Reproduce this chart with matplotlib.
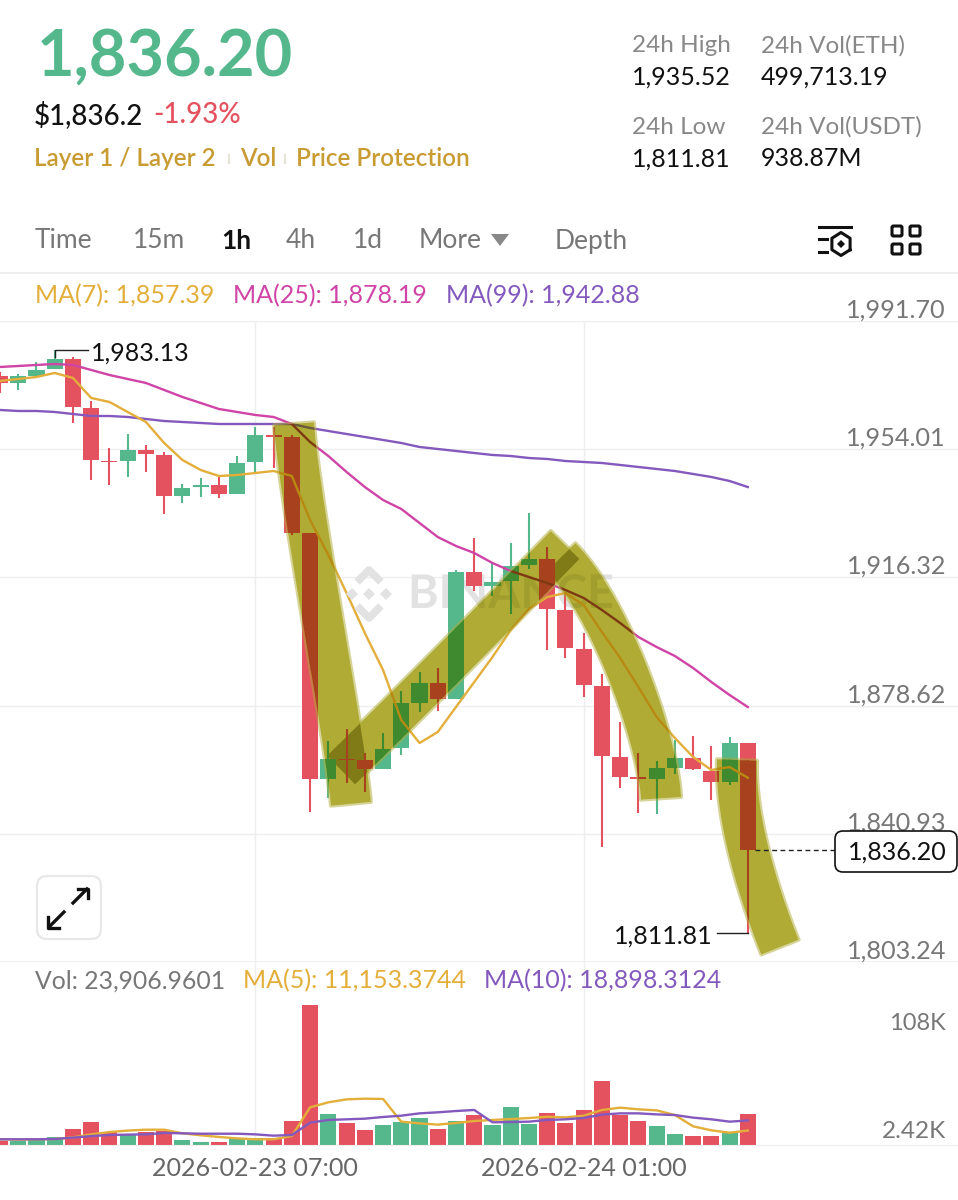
import numpy as np
import matplotlib
matplotlib.use("Agg")
import matplotlib.pyplot as plt
from matplotlib.patches import Polygon, FancyBboxPatch, PathPatch
from matplotlib.textpath import TextPath
from matplotlib.font_manager import FontProperties
from matplotlib.transforms import Affine2D

plt.rcParams['font.family'] = ['Lato', 'DejaVu Sans']

# candles, index 0 is the partly cut one at the left edge
opens = [1975.53,1973.48,1975.53,1977.59,1980.53,1966.13,1950.54,1950.54,1953.78,1952.31,1940.25,1942.90,1943.49,1940.84,
         1950.25,1958.19,1957.60,1929.37,1857.04,1862.92,1862.63,1859.98,1866.16,1879.39,1885.27,1880.56,1917.90,1913.79,
         1915.26,1919.96,1921.73,1906.73,1895.26,1884.39,1863.51,1857.63,1857.04,1860.27,1863.22,1859.39,1856.16,1867.63]
highs = [1976.71,1976.12,1979.65,1983.13,1981.12,1968.18,1954.36,1958.48,1955.25,1953.19,1943.78,1945.54,1945.84,1952.01,
         1960.54,1960.54,1958.19,1929.37,1868.21,1871.74,1864.68,1870.57,1882.92,1888.50,1889.68,1918.49,1927.90,1920.55,
         1926.43,1935.25,1925.26,1912.02,1899.97,1887.91,1873.80,1864.68,1862.33,1868.51,1869.68,1866.74,1869.39,1867.63]
lows = [1970.54,1971.42,1975.53,1977.59,1961.72,1944.96,1943.49,1945.84,1947.31,1934.96,1938.19,1939.96,1939.66,1940.84,
        1947.31,1948.48,1928.78,1847.34,1851.45,1855.86,1853.22,1859.98,1864.10,1876.74,1877.03,1880.56,1912.32,1910.85,
        1905.56,1918.79,1894.97,1892.62,1881.15,1837.05,1854.39,1847.04,1846.75,1858.51,1859.69,1850.87,1855.28,1811.81]
closes = [1973.48,1975.53,1977.30,1980.53,1966.42,1950.84,1950.25,1953.78,1952.60,1940.25,1942.60,1943.49,1940.84,1949.95,
          1958.19,1957.60,1929.37,1857.04,1862.92,1862.63,1859.98,1865.86,1879.39,1885.27,1880.56,1917.90,1913.79,1914.96,
          1919.67,1921.73,1907.03,1895.56,1884.68,1863.80,1857.63,1857.04,1860.27,1863.22,1859.98,1856.16,1867.63,1836.20]

ma7 = [1974.06,1974.65,1975.24,1976.42,1974.95,1969.07,1967.89,1964.95,1962.01,1955.83,1950.84,1947.90,1946.13,1946.43,
       1947.01,1947.60,1946.13,1933.19,1922.90,1911.73,1899.97,1889.09,1874.39,1867.63,1870.86,1878.21,1885.56,1892.91,
       1900.85,1907.03,1910.55,1911.73,1908.20,1900.26,1892.62,1884.09,1875.27,1869.10,1863.51,1859.69,1860.57,1857.39]
ma25 = [1978.18,1978.47,1978.77,1979.06,1978.77,1977.30,1975.83,1974.65,1973.48,1971.42,1969.36,1967.60,1965.83,1964.95,
        1964.07,1963.48,1961.42,1956.13,1952.01,1947.31,1942.90,1939.07,1936.43,1932.31,1928.19,1925.55,1923.49,1920.55,
        1918.20,1916.43,1914.67,1912.61,1910.26,1906.73,1902.91,1898.79,1895.85,1893.21,1889.68,1885.56,1881.74,1878.19]
ma99 = [1965.54,1965.24,1965.24,1964.95,1964.36,1963.77,1963.77,1963.48,1962.89,1962.30,1962.01,1961.72,1961.42,1961.42,
        1961.42,1961.42,1961.42,1960.25,1959.36,1958.48,1957.60,1956.72,1955.83,1954.66,1954.07,1953.48,1952.89,1952.31,
        1952.01,1951.42,1951.13,1950.54,1950.25,1949.95,1949.37,1948.78,1948.19,1947.60,1946.72,1945.84,1944.66,1942.88]

# volume in thousands
volumes = [3.1,2.8,3.6,5.9,12.3,17.5,10.3,8.5,10.0,11.1,4.1,2.6,2.42,5.7,5.7,5.1,18.2,108.0,23.9,16.7,11.6,15.2,17.5,20.8,
           12.3,18.2,23.1,15.2,29.0,15.9,24.9,17.2,26.7,49.1,23.1,18.5,14.4,8.2,6.7,7.2,9.0,23.9]
vol_ma5 = [4.4,4.1,4.4,4.6,5.9,8.2,10.0,11.1,11.8,11.8,9.0,7.5,6.2,5.1,4.4,4.4,6.9,29.0,32.9,35.2,35.7,35.5,18.0,16.7,15.7,
           17.0,18.5,19.3,20.0,20.8,21.8,21.3,22.6,27.0,28.8,27.5,26.7,23.1,14.4,11.3,9.5,11.15]
vol_ma10 = [4.4,4.4,4.4,4.6,5.7,6.9,7.7,8.0,8.2,9.3,9.0,8.7,8.7,8.7,8.2,7.2,7.7,17.2,19.3,19.8,20.3,21.6,22.6,24.4,25.2,26.2,
            27.0,17.5,17.7,18.0,19.3,19.8,20.8,23.4,24.4,24.4,23.6,23.1,21.1,19.8,18.0,18.9]

price_ticks = [1991.70,1954.01,1916.32,1878.62,1840.93,1803.24]
price_labels = ['1,991.70','1,954.01','1,916.32','1,878.62','1,840.93','1,803.24']
date_ticks = [14,32]
date_labels = ['2026-02-23 07:00','2026-02-24 01:00']

# hand drawn highlighter strokes, centre lines as (candle index, price)
stroke1 = ([16.12,16.67,17.65,18.64,19.24],[1961.1,1939.07,1902.91,1874.39,1849.4])
stroke2 = ([18.70,24.51,30.98],[1859.69,1890.56,1925.84])
stroke3 = ([30.76,32.73,34.43,35.69,36.24],[1922.31,1907.32,1888.50,1867.63,1851.45])
stroke4 = ([40.41,40.68,41.56,42.76],[1862.63,1844.99,1825.87,1807.64])

GREEN = '#55b88c'
RED = '#e5525f'
GOLD = '#c99c33'
MA_GOLD = '#e3ae3a'
MAGENTA = '#cf44a6'
PURPLE = '#8459bd'
GRID = '#eeeeee'
OLIVE = '#afab34'
W, H = 958, 1200


def px_axes(x0, y0, x1, y1):
    return fig.add_axes([x0/W, 1-y1/H, (x1-x0)/W, (y1-y0)/H])


def draw_candles(ax, up, down, clip=None, z=2):
    x = np.arange(len(opens))
    o, c = np.array(opens), np.array(closes)
    cols = [up if c[i] >= o[i] else down for i in x]
    wicks = ax.vlines(x, lows, highs, colors=cols, lw=1.5, zorder=z)
    bars = ax.bar(x, np.abs(c-o), bottom=np.minimum(o, c), width=0.88, color=cols, lw=0, zorder=z)
    if clip is not None:
        wicks.set_clip_path(clip)
        for b in bars:
            b.set_clip_path(clip)


def ribbon(ax, stroke, width=40):
    # turn a centre line into a polygon of constant width, smoothed with a cubic in screen space
    pts = ax.transData.transform(np.column_stack(stroke))
    t = np.linspace(0, 1, len(pts))
    tt = np.linspace(0, 1, 60)
    deg = min(3, len(pts)-1)
    sx = np.polyval(np.polyfit(t, pts[:, 0], deg), tt)
    sy = np.polyval(np.polyfit(t, pts[:, 1], deg), tt)
    dx, dy = np.gradient(sx), np.gradient(sy)
    n = np.hypot(dx, dy)
    nx, ny = -dy/n*width/2, dx/n*width/2
    left = np.column_stack([sx+nx, sy+ny])
    right = np.column_stack([sx-nx, sy-ny])
    outline = np.vstack([left, right[::-1]])
    return ax.transData.inverted().transform(outline)


def watermark(ax, color, z, clip=None):
    # as a path, agg does not clip plain text to a polygon
    tp = TextPath((0, 0), 'BINANCE', size=46.5, prop=FontProperties(family='Lato', weight='bold'))
    patch = PathPatch(tp, fc=color, lw=0, zorder=z, transform=Affine2D().translate(408, H-608))
    ax.add_artist(patch)
    if clip is not None:
        patch.set_clip_path(clip)


fig = plt.figure(figsize=(W/100, H/100), dpi=100, facecolor='white')

# price panel, top edge on the 1,991.70 grid line and bottom edge on the 1,803.24 one
ax = px_axes(0, 321, W, 962)
ax.set_xlim(0, W/18.24)
ax.set_ylim(price_ticks[-1], price_ticks[0])
ax.set_yticks(price_ticks)
ax.set_xticks(date_ticks)
ax.tick_params(length=0, labelleft=False, labelbottom=False)
ax.grid(color=GRID, lw=1, zorder=0)
ax.set_axisbelow(True)
for s in ax.spines.values():
    s.set_visible(False)
ax.axhline(price_ticks[0], color=GRID, lw=1.2, zorder=0)
ax.axhline(price_ticks[-1], color=GRID, lw=1.2, zorder=0)

watermark(ax, '#e2e2e2', 1)

draw_candles(ax, GREEN, RED)
x = np.arange(len(opens))
ax.plot(x, ma99, color=PURPLE, lw=1.7, zorder=3)
ax.plot(x, ma25, color=MAGENTA, lw=1.7, zorder=3)
ax.plot(x, ma7, color=MA_GOLD, lw=1.7, zorder=3)

# highlighter on top, what lies under it is redrawn darker inside the stroke to fake multiply
polys = []
for st in [stroke1, stroke2, stroke3, stroke4]:
    xy = ribbon(ax, st)
    ax.add_patch(Polygon(xy, closed=True, fc='none', ec=OLIVE, lw=3, alpha=0.5, zorder=3.9, joinstyle='round'))
    p = Polygon(xy, closed=True, fc=OLIVE, lw=0, zorder=4)
    ax.add_patch(p)
    polys.append(p)
for i, j in [(0, 1), (2, 1)]:
    p = Polygon(polys[i].get_xy(), closed=True, fc='#807b16', lw=0, zorder=4.5)
    ax.add_patch(p)
    p.set_clip_path(polys[j])
for p in polys:
    watermark(ax, '#a29e2e', 4.2, clip=p)
    draw_candles(ax, '#3f8a2e', '#a8421e', clip=p, z=5)
    for vals, col in [(ma99, '#6a5a3c'), (ma25, '#7d3a12'), (ma7, '#b98a12')]:
        l, = ax.plot(x, vals, color=col, lw=1.7, zorder=6)
        l.set_clip_path(p)

# high and low markers
ax.plot([3, 3, 4.8], [highs[3]-1.9, highs[3], highs[3]], color='#222222', lw=1, zorder=7)
ax.plot([39.3, 41], [lows[41], lows[41]], color='#222222', lw=1, zorder=7)
ax.plot([41.4, 45.8], [closes[41], closes[41]], color='#222222', lw=1, ls=(0, (3.5, 2.5)), zorder=7)

# volume panel
vax = px_axes(0, 962, W, 1145)
vax.set_xlim(0, W/18.24)
vax.set_ylim(0, 141.1)
vax.set_xticks(date_ticks)
vax.set_yticks([])
vax.tick_params(length=0, labelbottom=False, labelleft=False)
vax.grid(axis='x', color=GRID, lw=1, zorder=0)
vax.set_axisbelow(True)
vax.patch.set_alpha(0)
for s in vax.spines.values():
    s.set_visible(False)
vax.spines['bottom'].set_visible(True)
vax.spines['bottom'].set_color(GRID)
vol_cols = [GREEN if closes[i] >= opens[i] else RED for i in x]
vax.bar(x, volumes, width=0.88, color=vol_cols, lw=0, zorder=2)
vax.plot(x, vol_ma5, color=MA_GOLD, lw=1.7, zorder=3)
vax.plot(x, vol_ma10, color=PURPLE, lw=1.7, zorder=3)

# everything else sits on a pixel overlay
ui = fig.add_axes([0, 0, 1, 1], zorder=10)
ui.set_xlim(0, W)
ui.set_ylim(H, 0)
ui.axis('off')


def T(px, py, s, color='#111111', size=18, ha='left', weight='normal', z=3):
    ui.text(px, py, s, color=color, fontsize=size, ha=ha, va='center', fontweight=weight, zorder=z)


T(37, 57, '1,836.20', GREEN, 46.7, weight='bold')
T(34, 115, '$1,836.2', '#111111', 20, weight='medium')
T(153, 115, '-1.93%', RED, 20, weight='medium')
T(34, 159, 'Layer 1 / Layer 2', GOLD, 17.5, weight='semibold')
T(240, 159, 'Vol', GOLD, 17.5, weight='semibold')
T(296, 159, 'Price Protection', GOLD, 17.5, weight='semibold')
for dx in [229, 285]:
    ui.plot([dx, dx], [155, 163], color='#e8e4d8', lw=1.5)

T(632, 46, '24h High', '#888888', 17.5)
T(761, 46, '24h Vol(ETH)', '#888888', 17.5)
T(632, 77, '1,935.52', size=18)
T(761, 77, '499,713.19', size=18)
T(632, 127, '24h Low', '#888888', 17.5)
T(761, 127, '24h Vol(USDT)', '#888888', 17.5)
T(632, 159, '1,811.81', size=18)
T(761, 159, '938.87M', size=18)

for tx, lab in [(35, 'Time'), (133, '15m'), (286, '4h'), (353, '1d'), (419, 'More'), (555, 'Depth')]:
    T(tx, 241, lab, '#777777', 19)
T(221, 241, '1h', '#111111', 19, weight='bold')
ui.add_patch(Polygon([(491, 234), (509, 234), (500, 246)], fc='#888888', lw=0))
ui.plot([0, W], [273, 273], color=GRID, lw=1.2)

# toolbar icons
ui.plot([819, 851], [227, 227], color='#111111', lw=2.2)
ui.plot([819, 827], [239, 239], color='#111111', lw=2.2)
ui.plot([819, 827], [252, 252], color='#111111', lw=2.2)
ang = np.deg2rad(np.arange(30, 391, 60))
ui.plot(841+10.5*np.cos(ang), 244+11.5*np.sin(ang), color='#111111', lw=2.2)
ui.add_patch(Polygon([(841, 240), (845, 244), (841, 248), (837, 244)], fc='#111111', lw=0))
for bx in [891, 909]:
    for by in [225, 243]:
        ui.add_patch(FancyBboxPatch((bx+1, by+1), 10, 10, boxstyle='round,pad=0,rounding_size=1.5',
                                    fc='none', ec='#111111', lw=2.2))

T(35, 296, 'MA(7): 1,857.39', MA_GOLD, 18)
T(233, 296, 'MA(25): 1,878.19', MAGENTA, 18)
T(446, 296, 'MA(99): 1,942.88', PURPLE, 18)

# price labels sit just above their grid lines
for pv, lab in zip(price_ticks, price_labels):
    py = ax.transData.transform((0, pv))[1]
    T(946, H-py-11, lab, '#777777', 18.2, ha='right', z=1)
T(91, 353, '1,983.13', size=18)
T(713, 936, '1,811.81', size=18, ha='right')

# current price tag
ui.add_patch(FancyBboxPatch((835, 831), 122, 41, boxstyle='round,pad=0,rounding_size=8', fc='white', ec='#111111', lw=1.2, zorder=2))
T(897, 852, '1,836.20', size=18, ha='center')

# expand button
ui.add_patch(FancyBboxPatch((37, 876), 64, 63, boxstyle='round,pad=0,rounding_size=10', fc='white', ec='#e8e8e8', lw=1.6, zorder=2))
ui.plot([50, 64], [926, 912], color='#111111', lw=2.4, zorder=3)
ui.plot([48.5, 48.5, 59], [917, 927.5, 927.5], color='#111111', lw=2.4, zorder=3)
ui.plot([73, 87], [903, 889], color='#111111', lw=2.4, zorder=3)
ui.plot([78, 88.5, 88.5], [888.5, 888.5, 898], color='#111111', lw=2.4, zorder=3)

T(35, 981, 'Vol: 23,906.9601', '#777777', 17.8)
T(243, 981, 'MA(5): 11,153.3744', MA_GOLD, 18)
T(484, 981, 'MA(10): 18,898.3124', PURPLE, 18)
T(946, 1023, '108K', '#777777', 17, ha='right')
T(946, 1131, '2.42K', '#777777', 17.5, ha='right')
for ix, lab in zip(date_ticks, date_labels):
    T(vax.transData.transform((ix, 0))[0], 1168, lab, '#666666', 18.1, ha='center')

# binance logo of the watermark
for cx, cy, r in [(369, 594, 6), (352, 594, 6), (386, 594, 6)]:
    ui.add_patch(Polygon([(cx, cy-r), (cx+r, cy), (cx, cy+r), (cx-r, cy)], fc='#e2e2e2', lw=0, zorder=0))
ui.plot([357, 369, 381], [582, 570, 582], color='#e2e2e2', lw=5.5, solid_capstyle='butt', zorder=0)
ui.plot([357, 369, 381], [606, 618, 606], color='#e2e2e2', lw=5.5, solid_capstyle='butt', zorder=0)

fig.savefig('out.png', dpi=100)
